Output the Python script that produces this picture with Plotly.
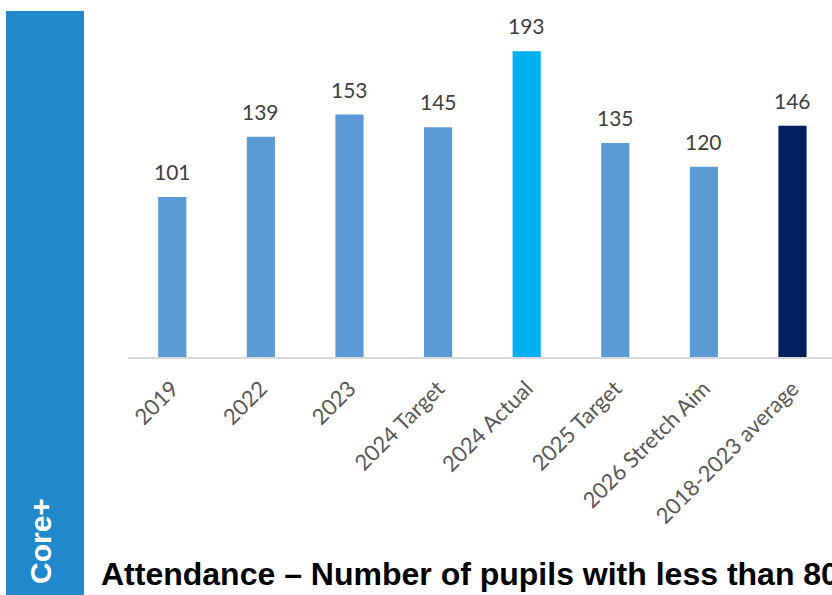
import plotly.graph_objects as go

categories = ["2019", "2022", "2023", "2024 Target", "2024 Actual", "2025 Target", "2026 Stretch Aim", "2018-2023 average"]
values = [101, 139, 153, 145, 193, 135, 120, 146]
bar_colors = ["#5B9BD5", "#5B9BD5", "#5B9BD5", "#5B9BD5", "#00B0F0", "#5B9BD5", "#5B9BD5", "#002060"]
title_text = "Attendance – Number of pupils with less than 80% attendance"
side_text = "Core+"

W, H = 832, 595
L, R, T, B = 128, 0, 10, 238
pw, ph = W - L - R, H - T - B

def px_x(p):
    return (p - L) / pw

def px_y(p):
    return (H - B - p) / ph

fig = go.Figure()
fig.add_trace(go.Bar(
    x=categories, y=values, marker=dict(color=bar_colors, line=dict(width=0)),
    width=0.318, hoverinfo="skip",
))

annotations = []
for i, v in enumerate(values):
    annotations.append(dict(x=i, y=v, xref="x", yref="y", text=str(v), showarrow=False, yanchor="bottom",
                            yshift=11, font=dict(family="Lato", size=21, color="#404040")))

annotations.append(dict(xref="paper", yref="paper", x=px_x(99), y=px_y(594), xanchor="left", yanchor="bottom",
                        text="<b>" + title_text + "</b>", showarrow=False,
                        font=dict(family="Liberation Sans", size=32, color="#000000")))
annotations.append(dict(xref="paper", yref="paper", x=px_x(40), y=px_y(541), xanchor="center", yanchor="middle",
                        text="<b>" + side_text + "</b>", showarrow=False, textangle=-90,
                        font=dict(family="Liberation Sans", size=30, color="#FFFFFF")))

fig.update_layout(
    width=W, height=H, margin=dict(l=L, r=R, t=T, b=B),
    paper_bgcolor="white", plot_bgcolor="white", showlegend=False,
    xaxis=dict(type="category", range=[-0.5, 7.446], showline=True, linecolor="#D9D9D9", linewidth=2,
               tickangle=-45, tickfont=dict(family="Lato", size=22, color="#595959"),
               ticks="", showgrid=False, ticklabelstandoff=8),
    yaxis=dict(range=[0, 219], visible=False, showgrid=False),
    shapes=[dict(type="rect", xref="paper", yref="paper", x0=px_x(6), x1=px_x(84), y0=px_y(595), y1=px_y(11),
                 fillcolor="#1F89CB", line=dict(width=0), layer="below")],
    annotations=annotations,
)

fig.write_html("out.html")
